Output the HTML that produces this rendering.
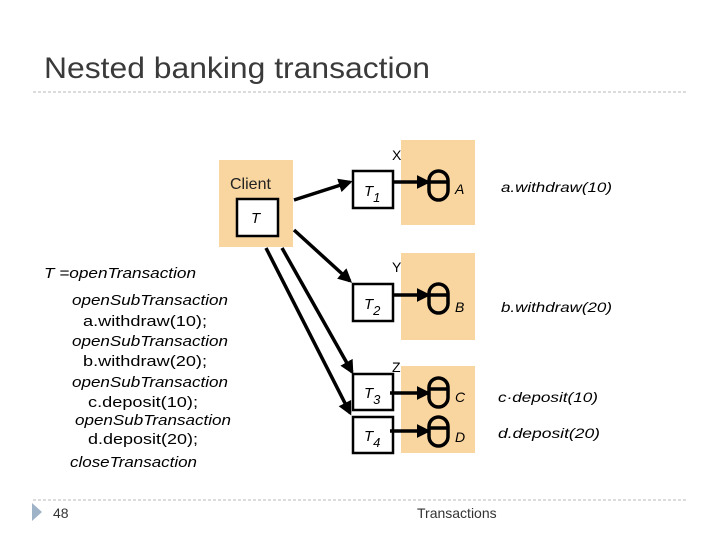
<!DOCTYPE html>
<html><head><meta charset="utf-8"><style>
html,body{margin:0;padding:0;background:#fff;}
svg{display:block;font-family:"Liberation Sans",sans-serif;}
</style></head><body>
<svg width="720" height="540" viewBox="0 0 720 540" xmlns="http://www.w3.org/2000/svg">
<defs>
<marker id="ah" markerWidth="4" markerHeight="4" refX="3.2" refY="2" orient="auto" markerUnits="strokeWidth">
<path d="M0,0 L4,2 L0,4 z" fill="#000"/></marker>
</defs>
<text x="44" y="78" font-size="30" fill="#3a3a3a" textLength="386" lengthAdjust="spacingAndGlyphs">Nested banking transaction</text>
<line x1="33" y1="92" x2="686" y2="92" stroke="#b8b8b8" stroke-dasharray="3,2"/>
<line x1="33" y1="500" x2="686" y2="500" stroke="#b8b8b8" stroke-dasharray="3,2"/>
<path d="M32,503 L42,512 L32,521 z" fill="#9fb3c8"/>
<text x="53" y="518" font-size="14" fill="#333">48</text>
<text x="417" y="518" font-size="14" fill="#333">Transactions</text>

<rect x="219" y="160" width="74" height="87" fill="#f9d6a0"/>
<rect x="401" y="140" width="74" height="85" fill="#f9d6a0"/>
<rect x="401" y="253" width="74" height="87" fill="#f9d6a0"/>
<rect x="401" y="366" width="74" height="87" fill="#f9d6a0"/>

<text x="230" y="189" font-size="16" fill="#222">Client</text>
<rect x="237" y="199" width="41" height="37" fill="#fff" stroke="#000" stroke-width="2.5"/>
<text x="251" y="223" font-size="15" font-style="italic">T</text>

<text x="392" y="160" font-size="14">X</text>
<text x="392" y="272" font-size="14">Y</text>
<text x="392" y="372" font-size="14">Z</text>

<g stroke="#000" stroke-width="2.5" fill="#fff">
<rect x="353" y="171" width="40" height="37"/>
<rect x="353" y="284" width="40" height="37"/>
<rect x="353" y="374" width="40" height="36"/>
<rect x="353" y="417" width="40" height="36"/>
</g>
<g font-size="15" font-style="italic">
<text x="364" y="196">T<tspan font-size="13" dy="6">1</tspan></text>
<text x="364" y="309">T<tspan font-size="13" dy="6">2</tspan></text>
<text x="364" y="398">T<tspan font-size="13" dy="6">3</tspan></text>
<text x="364" y="441">T<tspan font-size="13" dy="6">4</tspan></text>
</g>

<g stroke="#000" stroke-width="3.5" fill="none" marker-end="url(#ah)">
<line x1="294" y1="200" x2="350" y2="182"/>
<line x1="294" y1="230" x2="350" y2="281"/>
<line x1="282" y1="248" x2="352" y2="372"/>
<line x1="266" y1="248" x2="350" y2="413"/>
<line x1="393" y1="182" x2="428" y2="182"/>
<line x1="393" y1="295" x2="428" y2="295"/>
<line x1="390" y1="393" x2="428" y2="393"/>
<line x1="390" y1="431" x2="428" y2="431"/>
</g>

<g stroke="#000" stroke-width="3.5" fill="none">
<rect x="429" y="171" width="19" height="29" rx="9.5"/>
<line x1="429" y1="182" x2="448" y2="182"/>
<rect x="429" y="284" width="19" height="29" rx="9.5"/>
<line x1="429" y1="295" x2="448" y2="295"/>
<rect x="429" y="378" width="19" height="29" rx="9.5"/>
<line x1="429" y1="389" x2="448" y2="389"/>
<rect x="429" y="417" width="19" height="29" rx="9.5"/>
<line x1="429" y1="428" x2="448" y2="428"/>
</g>
<g font-size="14" font-style="italic">
<text x="455" y="194">A</text>
<text x="455" y="312">B</text>
<text x="455" y="402">C</text>
<text x="455" y="442">D</text>
<text x="501" y="192" textLength="111" lengthAdjust="spacingAndGlyphs">a.withdraw(10)</text>
<text x="501" y="312" textLength="111" lengthAdjust="spacingAndGlyphs">b.withdraw(20)</text>
<text x="498" y="402" textLength="100" lengthAdjust="spacingAndGlyphs">c·deposit(10)</text>
<text x="498" y="438" textLength="102" lengthAdjust="spacingAndGlyphs">d.deposit(20)</text>
</g>

<g font-size="15">
<text x="44" y="278" font-style="italic" textLength="152" lengthAdjust="spacingAndGlyphs">T =openTransaction</text>
<text x="72" y="305" font-style="italic" textLength="156" lengthAdjust="spacingAndGlyphs">openSubTransaction</text>
<text x="83" y="326" textLength="124" lengthAdjust="spacingAndGlyphs">a.withdraw(10);</text>
<text x="72" y="346" font-style="italic" textLength="156" lengthAdjust="spacingAndGlyphs">openSubTransaction</text>
<text x="83" y="366" textLength="124" lengthAdjust="spacingAndGlyphs">b.withdraw(20);</text>
<text x="72" y="387" font-style="italic" textLength="156" lengthAdjust="spacingAndGlyphs">openSubTransaction</text>
<text x="88" y="407" textLength="110" lengthAdjust="spacingAndGlyphs">c.deposit(10);</text>
<text x="75" y="425" font-style="italic" textLength="156" lengthAdjust="spacingAndGlyphs">openSubTransaction</text>
<text x="88" y="444" textLength="110" lengthAdjust="spacingAndGlyphs">d.deposit(20);</text>
<text x="70" y="467" font-style="italic" textLength="127" lengthAdjust="spacingAndGlyphs">closeTransaction</text>
</g>
</svg>
</body></html>
